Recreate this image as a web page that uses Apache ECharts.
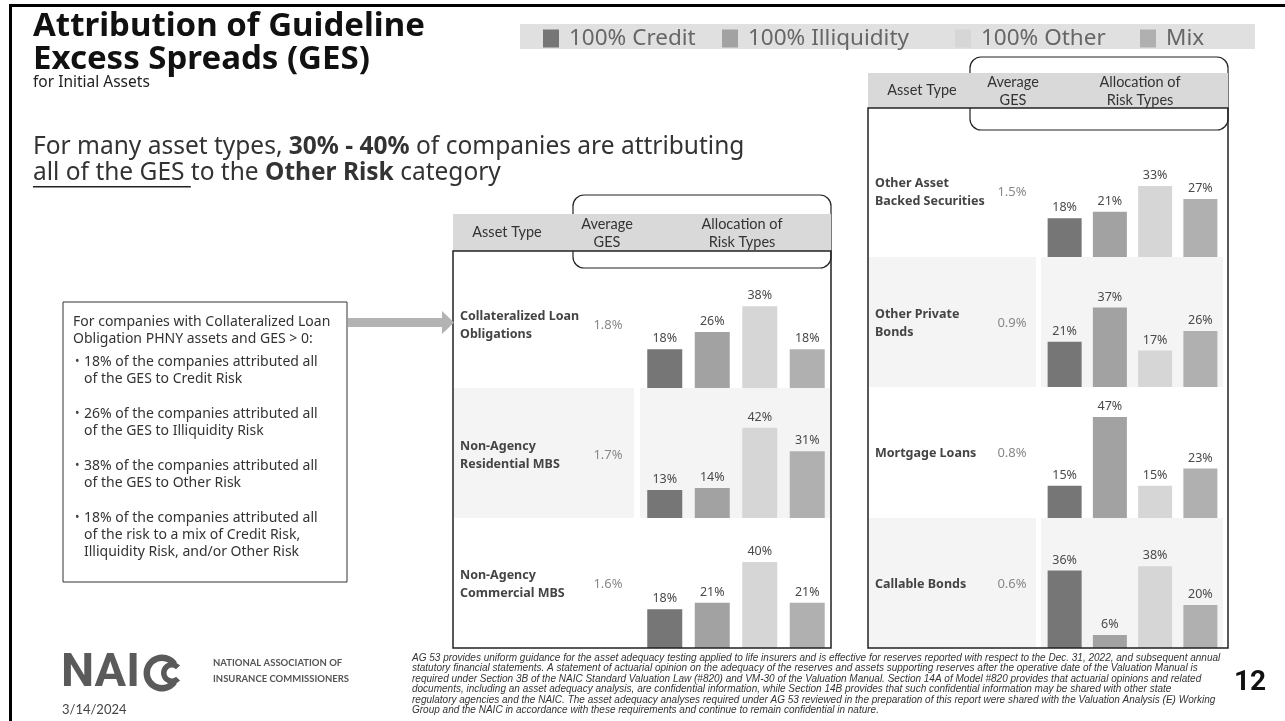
<!DOCTYPE html>
<html>
<head>
<meta charset="utf-8">
<script src="https://cdn.jsdelivr.net/npm/echarts@6/dist/echarts.min.js"></script>
<style>
  html, body { margin: 0; padding: 0; background: #ffffff; }
  #chart { width: 1285px; height: 721px; }
</style>
</head>
<body>
<div id="chart"></div>
<script>
// ---- Data -------------------------------------------------------------
const assetTypes = [
  'Collateralized Loan\nObligations',
  'Non-Agency\nResidential MBS',
  'Non-Agency\nCommercial MBS',
  'Other Asset\nBacked Securities',
  'Other Private\nBonds',
  'Mortgage Loans',
  'Callable Bonds'
];
const averageGES = [1.8, 1.7, 1.6, 1.5, 0.9, 0.8, 0.6];
const riskTypes = ['100% Credit', '100% Illiquidity', '100% Other', 'Mix'];
const creditPct      = [18, 13, 18, 18, 21, 15, 36];
const illiquidityPct = [26, 14, 21, 21, 37, 47, 6];
const otherPct       = [38, 42, 40, 33, 17, 15, 38];
const mixPct         = [18, 31, 21, 27, 26, 23, 20];
const sharesByRisk = [creditPct, illiquidityPct, otherPct, mixPct];

const tableHeaders = ['Asset Type', 'Average\nGES', 'Allocation of\nRisk Types'];
const calloutLines = [
  'For companies with Collateralized Loan',
  'Obligation PHNY assets and GES > 0:'
];
const calloutBullets = [
  ['18% of the companies attributed all', 'of the GES to Credit Risk'],
  ['26% of the companies attributed all', 'of the GES to Illiquidity Risk'],
  ['38% of the companies attributed all', 'of the GES to Other Risk'],
  ['18% of the companies attributed all', 'of the risk to a mix of Credit Risk,', 'Illiquidity Risk, and/or Other Risk']
];
const footnoteLines = [
  'AG 53 provides uniform guidance for the asset adequacy testing applied to life insurers and is effective for reserves reported with respect to the Dec. 31, 2022, and subsequent annual',
  'statutory financial statements. A statement of actuarial opinion on the adequacy of the reserves and assets supporting reserves after the operative date of the Valuation Manual is',
  'required under Section 3B of the NAIC Standard Valuation Law (#820) and VM-30 of the Valuation Manual. Section 14A of Model #820 provides that actuarial opinions and related',
  'documents, including an asset adequacy analysis, are confidential information, while Section 14B provides that such confidential information may be shared with other state',
  'regulatory agencies and the NAIC. The asset adequacy analyses required under AG 53 reviewed in the preparation of this report were shared with the Valuation Analysis (E) Working',
  'Group and the NAIC in accordance with these requirements and continue to remain confidential in nature.'
];

// ---- Styling & layout -------------------------------------------------
const riskColors = ['#767676', '#a2a2a2', '#d6d6d6', '#b0b0b0'];
const SANS = 'Lato, "Noto Sans", sans-serif';
const NOTO = '"Noto Sans", "Open Sans", sans-serif';
const PX_PER_PCT = 2.15;          // vertical bar scale shared by every cell

const tables = [
  { x0: 453, x1: 831, labelX: 460, gesX: 608, barX: 641, barW: 190, barWidth: 35,
    labelEnd: 634, shadeEnd: 831, headTop: 214, headBottom: 251,
    bracket: [573, 195, 831, 268], headX: [507, 607, 742] },
  { x0: 868, x1: 1228, labelX: 875, gesX: 1012, barX: 1042, barW: 181, barWidth: 34,
    labelEnd: 1036, shadeEnd: 1223, headTop: 73, headBottom: 108,
    bracket: [970, 57, 1228, 130], headX: [922, 1013, 1140] }
];
const cells = [
  { t: 0, top: 251, bottom: 388, labelY: 325, shade: false },
  { t: 0, top: 388, bottom: 518, labelY: 455, shade: true },
  { t: 0, top: 518, bottom: 648, labelY: 584, shade: false },
  { t: 1, top: 108, bottom: 257, labelY: 192, shade: false },
  { t: 1, top: 257, bottom: 387, labelY: 323, shade: true },
  { t: 1, top: 387, bottom: 518, labelY: 453, shade: false },
  { t: 1, top: 518, bottom: 648, labelY: 584, shade: true }
];
const legendLeft = [543, 722, 955, 1140];

// ---- Grids, axes and bar series (one grid per asset row) ---------------
const grid = [], xAxis = [], yAxis = [], series = [];
cells.forEach((c, i) => {
  const tb = tables[c.t];
  const h = c.bottom - c.top;
  grid.push({ left: tb.barX, top: c.top, width: tb.barW, height: h, containLabel: false });
  xAxis.push({ type: 'category', gridIndex: i, data: riskTypes, show: false });
  yAxis.push({ type: 'value', gridIndex: i, min: 0, max: h / PX_PER_PCT, show: false });
  riskTypes.forEach((name, j) => {
    series.push({
      type: 'bar', name, xAxisIndex: i, yAxisIndex: i,
      barWidth: tb.barWidth, barGap: '-100%',
      itemStyle: { color: riskColors[j] },
      emphasis: { disabled: true },
      label: {
        show: true, position: 'top', distance: 4, formatter: '{c}%',
        fontSize: 12.5, color: '#4a4a4a', fontFamily: NOTO
      },
      data: riskTypes.map((_, k) => (k === j ? sharesByRisk[j][i] : '-'))
    });
  });
});

// ---- Slide decorations, tables and text --------------------------------
const g = [];
const txt = (x, y, text, o = {}) => g.push({
  type: 'text', z: o.z || 50, silent: true,
  style: Object.assign({
    x, y, text, fill: o.fill || '#333', textAlign: o.align || 'left',
    textVerticalAlign: o.valign || 'middle',
    font: o.font || `14px ${SANS}`, lineHeight: o.lineHeight
  }, o.style || {})
});
const rect = (x, y, w, h, style, z = 0, r) => g.push({
  type: 'rect', z, silent: true, shape: { x, y, width: w, height: h, r: r || 0 }, style
});
const measure = document.createElement('canvas').getContext('2d');
const textWidth = (s, font) => { measure.font = font; return measure.measureText(s).width; };

// frame lines
rect(9, 4, 1276, 3, { fill: '#000' }, 60);
rect(9, 4, 3, 717, { fill: '#000' }, 60);

// title block
txt(33, 27, 'Attribution of Guideline', { font: `bold 33px ${NOTO}`, fill: '#111' });
txt(33, 60, 'Excess Spreads (GES)', { font: `bold 33px ${NOTO}`, fill: '#111' });
txt(33, 83, 'for Initial Assets', { font: `15.5px ${NOTO}`, fill: '#222' });
const PARA_SIZE = 24.5;
const para = { n: { fontSize: PARA_SIZE, fontFamily: NOTO, color: '#222' },
               b: { fontSize: PARA_SIZE, fontFamily: NOTO, color: '#222', fontWeight: 'bold' } };
txt(33, 147, '{n|For many asset types, }{b|30% - 40%}{n| of companies are attributing}', { style: { rich: para } });
txt(33, 173, '{n|all of the GES }{n|to the }{b|Other Risk}{n| category}', { style: { rich: para } });
rect(33, 186, textWidth('all of the GES ', `${PARA_SIZE}px ${NOTO}`), 1.5, { fill: '#222' }, 50);

// legend strip background
rect(520, 24, 735, 25, { fill: '#e0e0e0' }, 0);

// table frames, headers and row shading
tables.forEach(tb => {
  const [bx0, by0, bx1, by1] = tb.bracket;
  rect(bx0, by0, bx1 - bx0, by1 - by0, { fill: 'none', stroke: '#222', lineWidth: 1.2 }, 3, 11);
  rect(tb.x0, tb.headTop, tb.x1 - tb.x0, tb.headBottom - tb.headTop, { fill: '#d9d9d9' }, 4);
  rect(tb.x0, tb.headBottom, tb.x1 - tb.x0, 648 - tb.headBottom, { fill: 'none', stroke: '#222', lineWidth: 1.5 }, 5);
  const hy = (tb.headTop + tb.headBottom) / 2;
  tableHeaders.forEach((h, k) => txt(tb.headX[k], hy + (k === 0 ? 0 : 0.5), h,
    { align: 'center', font: `14.5px ${SANS}`, fill: '#333', lineHeight: 18 }));
});
cells.forEach((c, i) => {
  const tb = tables[c.t];
  if (c.shade) {
    rect(tb.x0 + 1, c.top, tb.labelEnd - tb.x0 - 1, c.bottom - c.top, { fill: '#f4f4f4' }, -1);
    rect(tb.barX - 1, c.top, tb.shadeEnd - tb.barX + 1, c.bottom - c.top, { fill: '#f4f4f4' }, -1);
  }
  txt(tb.labelX, c.labelY, assetTypes[i], { font: `bold 12.5px ${NOTO}`, fill: '#444', lineHeight: 18 });
  txt(tb.gesX, c.labelY, averageGES[i].toFixed(1) + '%', { align: 'center', font: `13px ${NOTO}`, fill: '#888' });
});

// callout box with arrow pointing to the first row
rect(63, 302, 284, 280, { fill: '#fff', stroke: '#333', lineWidth: 1 }, 10);
g.push({ type: 'polygon', z: 10, silent: true,
  shape: { points: [[348, 318], [442, 318], [442, 311], [454, 322.5], [442, 334], [442, 327], [348, 327]] },
  style: { fill: '#b3b3b3' } });
const CALLOUT_FONT = `14px ${NOTO}`;
let ly = 322;
calloutLines.forEach(l => { txt(73, ly, l, { font: CALLOUT_FONT, fill: '#333' }); ly += 17; });
ly += 6;
calloutBullets.forEach(b => {
  txt(75, ly, '•', { font: `12px ${NOTO}`, fill: '#444' });
  b.forEach(l => { txt(84, ly, l, { font: CALLOUT_FONT, fill: '#333' }); ly += 17; });
  ly += 18;
});

// NAIC wordmark
txt(61, 674, 'NAI', { font: `bold 47px Roboto, ${SANS}`, fill: '#5a5a5a' });
g.push({ type: 'sector', z: 50, silent: true,
  shape: { cx: 162, cy: 673, r0: 12, r: 18.5, startAngle: Math.PI * 0.2, endAngle: Math.PI * 1.8 },
  style: { fill: '#5a5a5a' } });
g.push({ type: 'sector', z: 50, silent: true,
  shape: { cx: 172, cy: 673, r0: 5.5, r: 11, startAngle: Math.PI * 0.24, endAngle: Math.PI * 1.76 },
  style: { fill: '#5a5a5a' } });
txt(213, 663, 'NATIONAL ASSOCIATION OF', { font: `bold 9.5px ${SANS}`, fill: '#555' });
txt(213, 679, 'INSURANCE COMMISSIONERS', { font: `bold 9.5px ${SANS}`, fill: '#555' });
txt(62, 710, '3/14/2024', { font: `13px ${SANS}`, fill: '#444' });

// footnote, each full line sized to span the text column
const FOOT_FAMILY = '"Liberation Sans Narrow", "Liberation Sans", sans-serif';
let footBase = 8.4;
footnoteLines.forEach((l, k) => {
  let size = footBase;
  if (k < footnoteLines.length - 1) {
    size = Math.max(7, Math.min(10, 10 * 808 / textWidth(l, `italic 10px ${FOOT_FAMILY}`)));
    if (k === 0) footBase = size;
  }
  txt(412, 658 + k * 10.5, l, { font: `italic ${size.toFixed(2)}px ${FOOT_FAMILY}`, fill: '#333' });
});

// page number
txt(1250, 683, '12', { align: 'center', font: `bold 28px Roboto, ${SANS}`, fill: '#111' });

// one legend block per risk type so each entry sits at its own spot on the strip
const legend = riskTypes.map((name, j) => ({
  data: [name], selectedMode: false,
  left: legendLeft[j], top: 27, padding: 0, z: 20,
  icon: 'rect', itemWidth: 16, itemHeight: 18,
  textStyle: { fontSize: 22.5, color: '#666', fontFamily: NOTO, padding: [0, 0, 0, 5] }
}));

const option = {
  animation: false,
  backgroundColor: '#ffffff',
  legend,
  grid, xAxis, yAxis, series,
  graphic: { elements: g }
};
echarts.init(document.getElementById('chart'), null, { renderer: 'canvas' }).setOption(option);
</script>
</body>
</html>
